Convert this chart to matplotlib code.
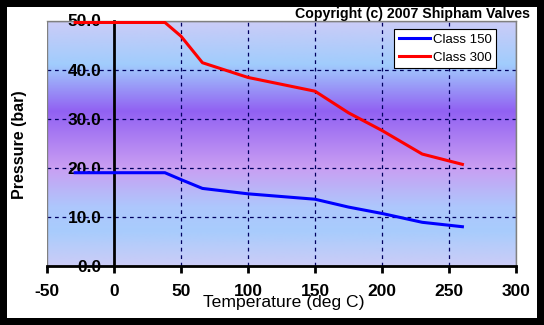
import numpy as np
import matplotlib.pyplot as plt
from matplotlib.colors import LinearSegmentedColormap

# pressure / temperature ratings
temps = [-29, 38, 50, 66, 100, 150, 175, 200, 230, 260]
class_150 = [19.0, 19.0, 17.6, 15.8, 14.7, 13.6, 12.0, 10.7, 8.9, 8.0]
class_300 = [49.6, 49.6, 46.8, 41.4, 38.4, 35.6, 31.2, 27.6, 22.8, 20.7]

x_ticks = [-50, 0, 50, 100, 150, 200, 250, 300]
y_ticks = [0, 10, 20, 30, 40, 50]

plt.rcParams['font.family'] = ['Liberation Sans', 'DejaVu Sans']

fig = plt.figure(figsize=(5.44, 3.25), dpi=100, facecolor='black')
# white panel inside the black frame
fig.patches.append(plt.Rectangle((7 / 544, 7 / 325), 530 / 544, 311 / 325,
                                 transform=fig.transFigure, facecolor='white',
                                 edgecolor='none', zorder=-1))

ax = fig.add_axes([47 / 544, 59 / 325, 469 / 544, 245.5 / 325])
ax.set_xlim(-50, 300)
ax.set_ylim(0, 50)

# banded background, bottom to top
stops = [(0.0, (0.80, 0.80, 0.97)),
         (0.14, (0.66, 0.80, 0.99)),
         (0.24, (0.68, 0.78, 0.99)),
         (0.40, (0.79, 0.62, 0.95)),
         (0.63, (0.57, 0.38, 0.95)),
         (0.82, (0.63, 0.80, 0.99)),
         (1.0, (0.80, 0.80, 0.97))]
cmap = LinearSegmentedColormap.from_list('band', stops)
grad = np.linspace(0, 1, 256).reshape(-1, 1)
ax.imshow(grad, cmap=cmap, aspect='auto', origin='lower',
          extent=(-50, 300, 0, 50), zorder=0)

for xv in [50, 100, 150, 200, 250]:
    ax.axvline(xv, color='#000060', lw=0.9, ls=(0, (3, 3)), zorder=1)
for yv in [10, 20, 30, 40]:
    ax.axhline(yv, color='#000060', lw=0.9, ls=(0, (3, 3)), zorder=1)

ax.plot(temps, class_150, color='#0000ff', lw=2.2, label='Class 150', zorder=3)
ax.plot(temps, class_300, color='#ff0000', lw=2.2, label='Class 300', zorder=3)

ax.spines['left'].set_position(('data', 0))
ax.spines['left'].set_linewidth(2)
ax.spines['left'].set_zorder(2)
ax.spines['bottom'].set_linewidth(2)
for s in ['top', 'right']:
    ax.spines[s].set_color('#808080')
    ax.spines[s].set_linewidth(1)
# grey frame on the left edge of the plot area
ax.add_patch(plt.Rectangle((0, 0), 1, 1, transform=ax.transAxes, fill=False,
                           edgecolor='#808080', lw=1, zorder=1))

ax.set_xticks(x_ticks)
ax.set_xticklabels([str(v) for v in x_ticks])
ax.set_yticks(y_ticks)
ax.set_yticklabels(['%.1f' % v for v in y_ticks])
ax.tick_params(axis='x', direction='out', length=5, width=2, pad=8,
               labelsize=12.5)
ax.tick_params(axis='y', length=0, pad=9, labelsize=12.5)
for lab in ax.get_xticklabels() + ax.get_yticklabels():
    lab.set_fontweight('bold')

leg = ax.legend(loc='upper right', bbox_to_anchor=(0.958, 0.966),
                fontsize=9.5, frameon=True, fancybox=False, framealpha=1,
                edgecolor='black', handlelength=2.4, handletextpad=0.2,
                borderpad=0.35, labelspacing=0.45, borderaxespad=0)
leg.get_frame().set_linewidth(0.8)

fig.text(284 / 544, 1 - 303 / 325, 'Temperature (deg C)', ha='center',
         va='center', fontsize=12.6)
fig.text(20 / 544, 1 - 145 / 325, 'Pressure (bar)', rotation=90, ha='center',
         va='center', fontsize=11.5, fontweight='bold')
fig.text(530 / 544, 1 - 14 / 325, 'Copyright (c) 2007 Shipham Valves',
         ha='right', va='center', fontsize=10.2, fontweight='bold')

fig.savefig('out.png', dpi=100, facecolor='black')
